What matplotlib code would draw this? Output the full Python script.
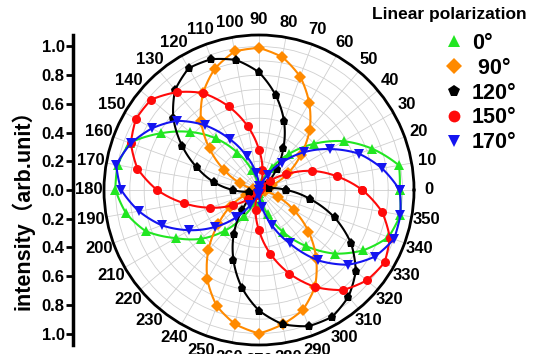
import numpy as np
import matplotlib
matplotlib.use('Agg')
import matplotlib.pyplot as plt

plt.rcParams['font.family'] = ['Liberation Sans', 'Noto Sans CJK SC', 'DejaVu Sans']
plt.rcParams['font.weight'] = 'bold'

# ── data: intensity at every 10 deg of analyser angle ──
angles_deg = np.arange(0, 360, 10)

pol_labels = ['0°', ' 90°', '120°', '150°', '170°']

int_0 = [0.98, 0.99, 0.84, 0.68, 0.50, 0.33, 0.18, 0.07, 0.02, 0.00, 0.04, 0.15,
         0.30, 0.47, 0.63, 0.79, 0.96, 1.00, 1.00, 0.94, 0.84, 0.67, 0.53, 0.37,
         0.21, 0.09, 0.02, 0.01, 0.07, 0.18, 0.34, 0.51, 0.69, 0.84, 0.96, 1.00]
int_90 = [0.00, 0.02, 0.10, 0.23, 0.38, 0.55, 0.70, 0.84, 0.94, 0.99, 0.98, 0.90,
          0.78, 0.63, 0.45, 0.28, 0.14, 0.04, 0.01, 0.02, 0.10, 0.23, 0.37, 0.55,
          0.72, 0.86, 0.95, 1.00, 0.95, 0.89, 0.78, 0.62, 0.45, 0.28, 0.14, 0.04]
int_120 = [0.19, 0.07, 0.01, 0.01, 0.07, 0.19, 0.34, 0.51, 0.67, 0.82, 0.92, 0.97,
           0.98, 0.91, 0.78, 0.62, 0.46, 0.32, 0.18, 0.07, 0.01, 0.01, 0.07, 0.18,
           0.35, 0.52, 0.69, 0.84, 0.95, 1.01, 1.02, 0.97, 0.88, 0.74, 0.56, 0.36]
int_150 = [0.72, 0.55, 0.39, 0.22, 0.10, 0.02, 0.00, 0.04, 0.14, 0.28, 0.45, 0.62,
           0.78, 0.89, 0.98, 0.99, 0.95, 0.86, 0.71, 0.53, 0.36, 0.21, 0.10, 0.02,
           0.00, 0.04, 0.14, 0.28, 0.45, 0.62, 0.78, 0.91, 0.98, 1.01, 0.97, 0.87]
int_170 = [0.98, 0.87, 0.74, 0.57, 0.41, 0.25, 0.12, 0.03, 0.00, 0.03, 0.12, 0.25,
           0.41, 0.59, 0.75, 0.86, 0.95, 1.01, 0.96, 0.85, 0.72, 0.56, 0.40, 0.25,
           0.12, 0.03, 0.00, 0.03, 0.12, 0.26, 0.43, 0.64, 0.81, 0.93, 1.00, 1.00]

series = [int_0, int_90, int_120, int_150, int_170]
colors = ['#22e622', '#ff8a00', 'black', '#ff0a0a', '#1414f0']
markers = ['^', 'D', 'p', 'o', 'v']

RMAX = 1.08
W, H = 535, 354
fig = plt.figure(figsize=(W / 100, H / 100), dpi=100)

# polar axes: centre (259,190) px, radius 155 px
cx, cy, rad = 259, 190, 155
ax = fig.add_axes([(cx - rad) / W, (H - cy - rad) / H, 2 * rad / W, 2 * rad / H],
                  projection='polar')

theta = np.deg2rad(np.append(angles_deg, 360))
for vals, col, mk in zip(series, colors, markers):
    r = np.append(vals, vals[0])
    ln, = ax.plot(theta, r, color=col, lw=1.5, marker=mk, ms=6.5,
                  markeredgewidth=0, zorder=3)
    # let the polar transform bend each segment along theta
    ln.get_path()._interpolation_steps = 12

ax.set_ylim(0, RMAX)
ax.set_yticks(np.arange(0.1, 1.01, 0.1))
ax.set_yticklabels([])
ax.tick_params(axis='y', length=0)
ax.set_xticks(np.deg2rad(np.arange(0, 360, 10)))
ax.set_xticklabels([str(a) for a in range(0, 360, 10)], fontsize=12,
                   fontweight='bold')
ax.tick_params(axis='x', direction='in', length=6, width=1.5, pad=4)
ax.grid(True, color='#cfcfcf', lw=0.6)
ax.spines['polar'].set_linewidth(2)

# ── straight intensity axis on the left ──
axl = fig.add_axes([73 / W, (H - cy - rad) / H, 0.0001, 2 * rad / H])
axl.set_ylim(-RMAX, RMAX)
axl.set_xticks([])
yt = np.round(np.arange(-1.0, 1.01, 0.2), 1)
axl.set_yticks(yt)
axl.set_yticklabels(['%.1f' % abs(v) for v in yt], fontsize=12, fontweight='bold')
axl.tick_params(axis='y', direction='out', length=5, width=2, pad=1)
for s in ['top', 'right', 'bottom']:
    axl.spines[s].set_visible(False)
axl.spines['left'].set_linewidth(2.5)
axl.patch.set_visible(False)

fig.text(23 / W, 1 - 204 / H, 'intensity（arb.unit）', rotation=90,
         fontsize=15.5, fontweight='bold', ha='center', va='center',
         family=['Liberation Sans', 'Noto Sans CJK SC'])

# ── legend ──
fig.text(449 / W, 1 - 15 / H, 'Linear polarization', fontsize=12.5,
         fontweight='bold', ha='center', va='center')
handles = [plt.Line2D([], [], ls='none', marker=mk, color=col, ms=8.5,
                      markeredgewidth=0) for col, mk in zip(colors, markers)]
fig.legend(handles, pol_labels, loc='upper left',
           bbox_to_anchor=(430 / W, 1 - 22 / H), frameon=False,
           prop={'size': 15.5, 'weight': 'bold'}, handlelength=1.2,
           handletextpad=0.25, labelspacing=0.18, borderpad=0)

fig.savefig('out.png', dpi=100)
